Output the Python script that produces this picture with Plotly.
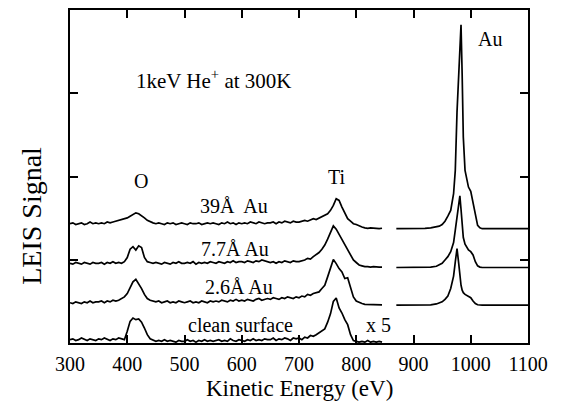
import plotly.graph_objects as go

# ---- data -------------------------------------------------------------
# Low-energy region (O and Ti peaks, shown x5), energies in eV
E_LO = list(range(300, 850, 5))
# High-energy region (Au peak)
E_HI = [870, 880, 890, 900, 910, 920, 930, 940, 945, 950, 955, 960, 965, 970,
        973, 976, 979, 981, 983, 985, 987, 990, 993, 996, 1000, 1004, 1008,
        1012, 1016, 1020, 1030, 1040, 1050, 1060, 1070, 1080, 1090, 1100]

LABELS = ["clean surface", "2.6\u00c5 Au", "7.7\u00c5 Au", "39\u00c5\u00a0 Au"]
OFFSETS = [0, 45.4, 90.7, 137.3]

CLEAN_LO = [4, 5, 3, 4, 6, 4, 3, 5, 4, 3,
            5, 4, 6, 4, 3, 5, 4, 6, 5, 4,
            14, 26, 30, 28, 29, 25, 18, 10, 5, 3,
            2, 3, 2, 4, 2, 3, 2, 1, 3, 2,
            2, 4, 2, 3, 1, 3, 2, 4, 2, 3,
            2, 3, 4, 2, 3, 2, 5, 3, 2, 4,
            3, 2, 4, 3, 5, 3, 4, 3, 5, 4,
            4, 6, 3, 5, 4, 6, 5, 3, 6, 5,
            6, 4, 7, 6, 9, 8, 10, 12, 14, 17,
            25, 35, 50, 54, 42, 36, 28, 22, 10, 3,
            2, 1, 2, 1, 3, 1, 2, 1, 2, 1]

AU26_LO = [3, 2, 4, 3, 2, 4, 3, 5, 3, 4,
           4, 5, 3, 5, 4, 6, 5, 6, 8, 10,
           14, 22, 28, 31, 26, 20, 13, 8, 6, 5,
           4, 5, 3, 4, 5, 3, 4, 3, 5, 4,
           3, 4, 5, 3, 4, 3, 5, 4, 3, 5,
           4, 5, 4, 6, 5, 4, 6, 5, 7, 5,
           6, 5, 7, 6, 5, 7, 8, 6, 7, 8,
           7, 9, 8, 7, 9, 8, 10, 9, 8, 10,
           9, 11, 10, 13, 12, 14, 15, 16, 20, 24,
           34, 45, 55, 50, 44, 40, 32, 33, 20, 10,
           5, 3, 2, 1, 1, 0.5, 1, 0.5, 1, 0.5]

AU77_LO = [5, 4, 6, 5, 4, 6, 5, 4, 6, 5,
           5, 6, 4, 6, 5, 7, 5, 6, 5, 7,
           12, 22, 25, 21, 26, 24, 12, 7, 6, 5,
           6, 5, 4, 6, 5, 4, 6, 5, 7, 5,
           5, 6, 5, 7, 4, 6, 5, 6, 5, 7,
           6, 5, 7, 6, 5, 7, 6, 8, 6, 7,
           7, 6, 8, 7, 6, 8, 7, 9, 8, 7,
           6, 7, 5, 7, 6, 8, 7, 6, 8, 7,
           7, 8, 9, 11, 10, 13, 15, 18, 22, 27,
           34, 42, 50, 46, 40, 33, 27, 22, 15, 9,
           6, 3, 2, 1, 1, 0.5, 1, 0.5, 0.5, 0.5]

AU39_LO = [6, 7, 5, 6, 7, 5, 6, 8, 6, 7,
           6, 7, 6, 8, 7, 8, 9, 10, 11, 12,
           13, 15, 17, 19, 18, 16, 13, 10, 8, 7,
           6, 7, 6, 5, 7, 6, 7, 5, 6, 7,
           6, 5, 7, 6, 6, 7, 5, 6, 7, 6,
           7, 6, 5, 7, 6, 8, 6, 7, 5, 7,
           6, 7, 6, 8, 7, 6, 8, 7, 6, 7,
           7, 8, 6, 8, 7, 9, 8, 7, 9, 8,
           8, 9, 10, 9, 11, 12, 11, 13, 14, 16,
           18, 22, 28, 36, 34, 26, 18, 12, 9, 6,
           5, 3, 2, 1, 0.5, 1, 0.5, 0.5, 0, 0.5]

AU26_HI = [0, 0, 0, 0, 0, 0.5, 0.5, 1.5, 2.5, 4, 7, 11, 20, 35,
           52, 68, 50, 34, 24, 18, 15, 13, 12, 11, 9, 5, 2,
           0.5, 0, 0, 0, 0, 0, 0, 0, 0, 0, 0]
AU77_HI = [0, 0, 0, 0, 0, 0, 0.5, 1.5, 3, 5, 9, 13, 19, 30,
           45, 62, 82, 86, 70, 52, 36, 28, 24, 21, 19, 15, 7,
           2, 0.5, 0, 0, 0, 0, 0, 0, 0, 0, 0]
AU39_HI = [0, 0, 0, 0, 0, 0.5, 1, 2, 3, 5, 9, 15, 22, 42,
           70, 140, 195, 225, 245, 185, 110, 70, 58, 50, 45, 30, 14,
           4, 1, 0, 0, 0, 0, 0, 0, 0, 0, 0]

LO_SERIES = [CLEAN_LO, AU26_LO, AU77_LO, AU39_LO]
HI_SERIES = [None, AU26_HI, AU77_HI, AU39_HI]

FONT = "Liberation Serif, Times New Roman, serif"

fig = go.Figure()
for off, lo, hi in zip(OFFSETS, LO_SERIES, HI_SERIES):
    fig.add_trace(go.Scatter(x=E_LO, y=[v + off for v in lo], mode="lines",
                             line=dict(color="black", width=1.7),
                             showlegend=False, hoverinfo="skip"))
    if hi is not None:
        fig.add_trace(go.Scatter(x=E_HI, y=[v + off for v in hi], mode="lines",
                                 line=dict(color="black", width=1.7),
                                 showlegend=False, hoverinfo="skip"))

ann = [
    dict(x=551, y=317, text="1keV He<sup>+</sup> at 300K", size=21),
    dict(x=424, y=195, text="O", size=20),
    dict(x=766, y=200, text="Ti", size=20),
    dict(x=1034, y=365, text="Au", size=20),
    dict(x=586, y=165, text=LABELS[3], size=20),
    dict(x=588, y=113, text=LABELS[2], size=20),
    dict(x=596, y=67, text=LABELS[1], size=20),
    dict(x=597, y=21.5, text=LABELS[0], size=20),
    dict(x=838, y=21.5, text="x 5", size=20),
]
for a in ann:
    fig.add_annotation(x=a["x"], y=a["y"], xref="x", yref="y", text=a["text"],
                       showarrow=False, font=dict(family=FONT, size=a["size"], color="black"),
                       xanchor="center", yanchor="middle")

fig.add_annotation(x=0.5, y=0, xref="paper", yref="paper", yshift=-45,
                   text="Kinetic Energy (eV)", showarrow=False,
                   font=dict(family=FONT, size=23, color="black"),
                   xanchor="center", yanchor="middle")
fig.add_annotation(x=0, y=0.382, xref="paper", yref="paper", xshift=-38,
                   text="LEIS Signal", textangle=-90, showarrow=False,
                   font=dict(family=FONT, size=28, color="black"),
                   xanchor="center", yanchor="middle")

axis_common = dict(showline=True, linecolor="black", linewidth=2, mirror="ticks",
                   ticks="inside", ticklen=8, tickwidth=2, tickcolor="black",
                   showgrid=False, zeroline=False)
fig.update_xaxes(range=[300, 1100], dtick=100, tick0=300, ticklabelstandoff=2,
                 tickfont=dict(family=FONT, size=20, color="black"), **axis_common)
fig.update_yaxes(range=[0, 400], dtick=100, tick0=0, showticklabels=False, **axis_common)

fig.update_layout(width=561, height=407, margin=dict(l=70, r=33, t=8, b=64),
                  plot_bgcolor="white", paper_bgcolor="white",
                  font=dict(family=FONT, color="black"))

fig.write_html("out.html")
